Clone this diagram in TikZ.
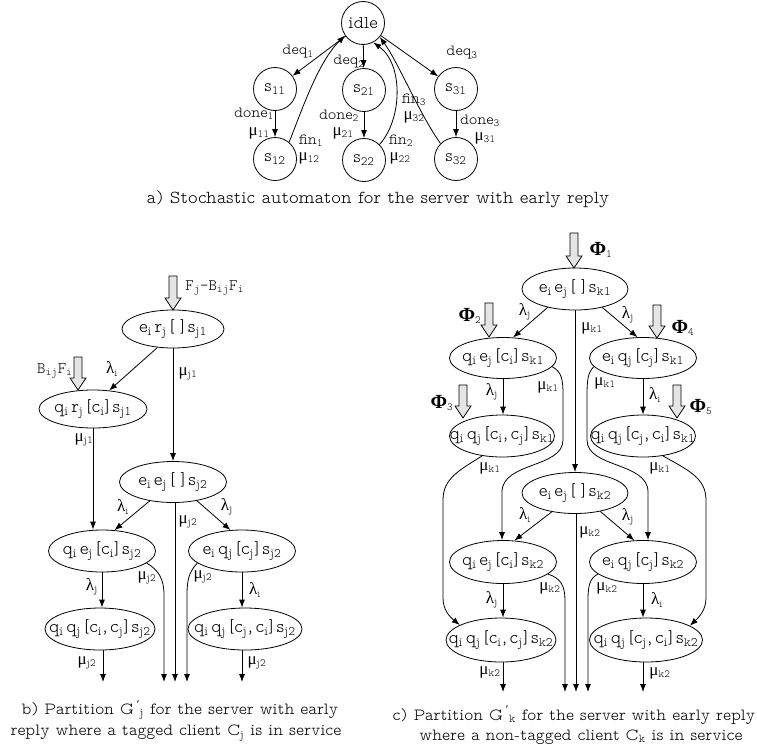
\documentclass[tikz,border=0pt]{standalone}
\usepackage{fontspec}
\setmainfont{lmmonoproplt10-regular.otf}
\newfontfamily\tight{lmmonoproplt10-regular.otf}[WordSpace=0.4]
\newfontfamily\grk{Liberation Serif}
\newfontfamily\ttl{lmmonolt10-regular.otf}
\usetikzlibrary{arrows.meta,shapes.geometric}

% Greek rate symbols with typewriter subscripts
\newcommand\lam[1]{{\grk\fontsize{17}{17}\selectfont λ}\textsubscript{#1}}
\newcommand\gmu[1]{{\grk\fontsize{17}{17}\selectfont μ}\textsubscript{#1}}
\newcommand\gphi[1]{{\grk\bfseries\fontsize{20}{20}\selectfont Φ}\textsubscript{#1}}
\newcommand\sbs[1]{\textsubscript{#1}}
\newcommand\gprime[1]{\textsuperscript{\grk ′}\textsubscript{#1}}
% empty client list
\newcommand\nil{[\kern5pt]}
% state text kept out of the ellipse size computation
\newcommand\nt[1]{\makebox[0pt]{#1}}

\tikzset{
  state/.style={circle, draw, minimum size=43pt, inner sep=0pt, font=\tight\fontsize{18}{20}\selectfont},
  st/.style={ellipse, draw, minimum width=107pt, minimum height=42pt, inner sep=0pt, font=\tight\fontsize{18.5}{20}\selectfont},
  lbl/.style={inner sep=0pt, font=\fontsize{15.5}{17}\selectfont},
  capt/.style={inner sep=0pt, font=\fontsize{17}{20}\selectfont},
  arr/.style={-{Latex[length=8pt,width=6pt]}},
  pics/fat/.style={code={
    \draw[fill=gray!20, line width=0.8pt] (-4,0) -- (-4,#1-12) -- (-8,#1-12) -- (0,#1)
      -- (8,#1-12) -- (4,#1-12) -- (4,0) -- cycle;}}
}

\begin{document}
\begin{tikzpicture}[x=1pt, y=-1pt, line width=0.8pt]
\useasboundingbox (0,0) rectangle (757,755);

% ---------------- a) automaton ----------------
\node[state] (idle) at (363,23) {idle};
\node[state] (s11) at (275,89) {s\sbs{11}};
\node[state] (s21) at (364,90) {s\sbs{21}};
\node[state] (s31) at (456,89) {s\sbs{31}};
\node[state] (s12) at (275,159) {s\sbs{12}};
\node[state] (s22) at (364,160) {s\sbs{22}};
\node[state] (s32) at (456,159) {s\sbs{32}};

\draw[arr] (idle) -- (s11);
\draw[arr] (idle) -- (s21);
\draw[arr] (idle) -- (s31);
\draw[arr] (s11) -- (s12);
\draw[arr] (s21) -- (s22);
\draw[arr] (s31) -- (s32);
\draw[arr] (s12.50) .. controls (302,110) and (318,62) .. (idle.215);
\draw[arr] (s22.45) .. controls (402,120) and (404,65) .. (idle.-62);
\draw[arr] (s32.135) .. controls (420,115) and (398,62) .. (idle.-40);

\node[lbl] (ld1) at (298,52) {deq\sbs{1}};
\node[lbl] (ld2) at (349,62) {deq\sbs{2}};
\node[lbl] (ld3) at (462,53) {deq\sbs{3}};
\node[lbl] (lo1) at (254,114) {done\sbs{1}};
\node[lbl] (lm11) at (259,133) {\gmu{11}};
\node[lbl] (lf1) at (311,141) {fin\sbs{1}};
\node[lbl] (lm12) at (309,158) {\gmu{12}};
\node[lbl] (lo2) at (339,116) {done\sbs{2}};
\node[lbl] (lm21) at (343,133) {\gmu{21}};
\node[lbl] (lf2) at (401,141) {fin\sbs{2}};
\node[lbl] (lm22) at (400,158) {\gmu{22}};
\node[lbl] (lf3) at (414,100) {fin\sbs{3}};
\node[lbl] (lm32) at (414,117) {\gmu{32}};
\node[lbl] (lo3) at (480,121) {done\sbs{3}};
\node[lbl] (lm31) at (485,138) {\gmu{31}};

\node[capt, font=\fontsize{18.3}{20}\selectfont] (capa) at (378,199) {a) Stochastic automaton for the server with early reply};

% ---------------- b) tagged client partition ----------------
\node[st, minimum width=102pt, minimum height=38pt] (er) at (173,329) {\nt{e\sbs{i} r\sbs{j} \nil{} s\sbs{j1}}};
\node[st, minimum width=108pt, minimum height=38pt] (qr) at (93,409) {\nt{q\sbs{i} r\sbs{j} [c\sbs{i}] s\sbs{j1}}};
\node[st, minimum height=41pt] (ee) at (173,482) {\nt{e\sbs{i} e\sbs{j} \nil{} s\sbs{j2}}};
\node[st] (qe) at (102,551) {\nt{q\sbs{i} e\sbs{j} [c\sbs{i}] s\sbs{j2}}};
\node[st] (eq) at (242,551) {\nt{e\sbs{i} q\sbs{j} [c\sbs{j}] s\sbs{j2}}};
\node[st, minimum width=110pt] (qq1) at (100,629) {\nt{q\sbs{i} q\sbs{j} [c\sbs{i}, c\sbs{j}] s\sbs{j2}}};
\node[st, minimum width=114pt] (qq2) at (245,629) {\nt{q\sbs{i} q\sbs{j} [c\sbs{j}, c\sbs{i}] s\sbs{j2}}};

\pic at (173,276) {fat=34};
\pic at (78,357) {fat=33};
\node[lbl, anchor=west, font=\ttl\fontsize{16}{18}\selectfont] (lF) at (185,288) {F\sbs{j}-B\sbs{ij}F\sbs{i}};
\node[lbl, anchor=east, font=\ttl\fontsize{16}{18}\selectfont] (lB) at (73,371) {B\sbs{ij}F\sbs{i}};

\coordinate (b0) at (103,682);
\coordinate (b1) at (164,682);
\coordinate (b2) at (175,682);
\coordinate (b3) at (187,682);
\coordinate (b4) at (242,682);

\draw[arr] (er.230) -- (qr.49);
\draw[arr] (er.south) -- (ee.north);
\draw[arr] (qr.south) -- (qr.south |- qe.north);
\draw[arr] (ee.219) -- (qe.59);
\draw[arr] (ee.-38) -- (eq.119);
\draw[arr] (ee.south -| b2) -- (b2);
\draw[arr] (qe.-15) .. controls (158,570) and (164,578) .. (164,595) -- (b1);
\draw[arr] (eq.195) .. controls (189,572) and (187,580) .. (187,595) -- (b3);
\draw[arr] (qe.south) -- (qe.south |- qq1.north);
\draw[arr] (eq.south) -- (eq.south |- qq2.north);
\draw[arr] (qq1.south -| b0) -- (b0);
\draw[arr] (qq2.south -| b4) -- (b4);

\node[lbl] (bl1) at (112,369) {\lam{i}};
\node[lbl] (bl2) at (188,374) {\gmu{j1}};
\node[lbl] (bl3) at (84,440) {\gmu{j1}};
\node[lbl] (bl4) at (123,507) {\lam{i}};
\node[lbl] (bl5) at (227,507) {\lam{j}};
\node[lbl] (bl6) at (188,522) {\gmu{j2}};
\node[lbl] (bl7) at (147,578) {\gmu{j2}};
\node[lbl] (bl8) at (203,577) {\gmu{j2}};
\node[lbl] (bl9) at (92,587) {\lam{j}};
\node[lbl] (bl10) at (255,590) {\lam{i}};
\node[lbl] (bl11) at (87,663) {\gmu{j2}};
\node[lbl] (bl12) at (257,663) {\gmu{j2}};

\node[capt] (capb1) at (180,710) {b) Partition G\,\gprime{j} for the server with early};
\node[capt] (capb2) at (176,733) {reply where a tagged client C\sbs{j} is in service};

% ---------------- c) non-tagged client partition ----------------
\node[st, minimum width=106pt] (ee1) at (575,289) {\nt{e\sbs{i} e\sbs{j} \nil{} s\sbs{k1}}};
\node[st, minimum height=41pt] (qe1) at (503,358) {\nt{q\sbs{i} e\sbs{j} [c\sbs{i}] s\sbs{k1}}};
\node[st, minimum height=41pt] (eq1) at (643,358) {\nt{e\sbs{i} q\sbs{j} [c\sbs{j}] s\sbs{k1}}};
\node[st, minimum width=105pt] (qq1c) at (502,436) {\nt{q\sbs{i} q\sbs{j} [c\sbs{i}, c\sbs{j}] s\sbs{k1}}};
\node[st, minimum width=105pt] (qq2c) at (643,436) {\nt{q\sbs{i} q\sbs{j} [c\sbs{j}, c\sbs{i}] s\sbs{k1}}};
\node[st, minimum width=106pt, minimum height=41pt] (ee2) at (575,493) {\nt{e\sbs{i} e\sbs{j} \nil{} s\sbs{k2}}};
\node[st, minimum height=43pt] (qe2) at (503,562) {\nt{q\sbs{i} e\sbs{j} [c\sbs{i}] s\sbs{k2}}};
\node[st, minimum height=43pt] (eq2) at (643,562) {\nt{e\sbs{i} q\sbs{j} [c\sbs{j}] s\sbs{k2}}};
\node[st, minimum width=110pt, minimum height=44pt] (qq3) at (501,640) {\nt{q\sbs{i} q\sbs{j} [c\sbs{i}, c\sbs{j}] s\sbs{k2}}};
\node[st, minimum width=113pt, minimum height=44pt] (qq4) at (646,640) {\nt{q\sbs{i} q\sbs{j} [c\sbs{j}, c\sbs{i}] s\sbs{k2}}};

\pic at (574,233) {fat=35};
\pic at (489,303) {fat=34};
\pic at (657,305) {fat=33};
\pic at (463,385) {fat=33};
\pic at (677,385) {fat=33};
\node[lbl] (p1) at (601,250) {\gphi{1}};
\node[lbl] (p2) at (470,316) {\gphi{2}};
\node[lbl] (p4) at (683,328) {\gphi{4}};
\node[lbl] (p3) at (442,403) {\gphi{3}};
\node[lbl] (p5) at (701,407) {\gphi{5}};

\coordinate (c0) at (503,692);
\coordinate (c1) at (565,692);
\coordinate (c2) at (576,692);
\coordinate (c3) at (588,692);
\coordinate (c4) at (643,692);
\coordinate (cq) at (502,0);
\coordinate (cw) at (648,0);

\draw[arr] (ee1.214) -- (qe1.64);
\draw[arr] (ee1.-34) -- (eq1.105);
\draw[arr] (ee1.south) -- (ee2.north);
\draw[arr] (qe1.south) -- (qe1.south |- qq1c.north);
\draw[arr] (eq1.south) -- (eq1.south |- qq2c.north);
\draw[arr] (qe1.-10) .. controls (562,372) and (563,380) .. (563,395) -- (563,440)
  .. controls (563,468) and (502,462) .. (502,492) -- (qe2.north -| cq);
\draw[arr] (eq1.190) .. controls (588,372) and (587,380) .. (587,395) -- (587,440)
  .. controls (587,468) and (648,462) .. (648,492) -- (eq2.north -| cw);
\draw[arr] (qq1c.225) .. controls (460,470) and (443,478) .. (443,500) -- (443,598)
  .. controls (443,610) and (450,617) .. (qq3.160);
\draw[arr] (qq2c.-45) .. controls (688,470) and (706,478) .. (706,500) -- (706,598)
  .. controls (706,610) and (699,617) .. (qq4.18);
\draw[arr] (ee2.219) -- (qe2.62);
\draw[arr] (ee2.-36) -- (eq2.112);
\draw[arr] (ee2.south -| c2) -- (c2);
\draw[arr] (qe2.-15) .. controls (560,578) and (565,585) .. (565,600) -- (c1);
\draw[arr] (eq2.195) .. controls (590,578) and (588,585) .. (588,600) -- (c3);
\draw[arr] (qe2.south) -- (qe2.south |- qq3.north);
\draw[arr] (eq2.south) -- (eq2.south |- qq4.north);
\draw[arr] (qq3.south -| c0) -- (c0);
\draw[arr] (qq4.south -| c4) -- (c4);

\node[lbl] (cl1) at (525,312) {\lam{j}};
\node[lbl] (cl2) at (628,315) {\lam{j}};
\node[lbl] (cl3) at (592,328) {\gmu{k1}};
\node[lbl] (cl4) at (548,387) {\gmu{k1}};
\node[lbl] (cl5) at (605,383) {\gmu{k1}};
\node[lbl] (cl6) at (492,392) {\lam{j}};
\node[lbl] (cl7) at (655,395) {\lam{i}};
\node[lbl] (cl8) at (490,468) {\gmu{k1}};
\node[lbl] (cl9) at (660,468) {\gmu{k1}};
\node[lbl] (cl10) at (525,515) {\lam{i}};
\node[lbl] (cl11) at (628,517) {\lam{j}};
\node[lbl] (cl12) at (590,532) {\gmu{k2}};
\node[lbl] (cl13) at (550,588) {\gmu{k2}};
\node[lbl] (cl14) at (607,588) {\gmu{k2}};
\node[lbl] (cl15) at (492,600) {\lam{j}};
\node[lbl] (cl16) at (657,600) {\lam{i}};
\node[lbl] (cl17) at (490,672) {\gmu{k2}};
\node[lbl] (cl18) at (660,673) {\gmu{k2}};

\node[capt] (capc1) at (574,715) {c) Partition G\,\gprime{k} for the server with early reply};
\node[capt] (capc2) at (581,737) {where a non-tagged client C\sbs{k} is in service};
\end{tikzpicture}
\end{document}
